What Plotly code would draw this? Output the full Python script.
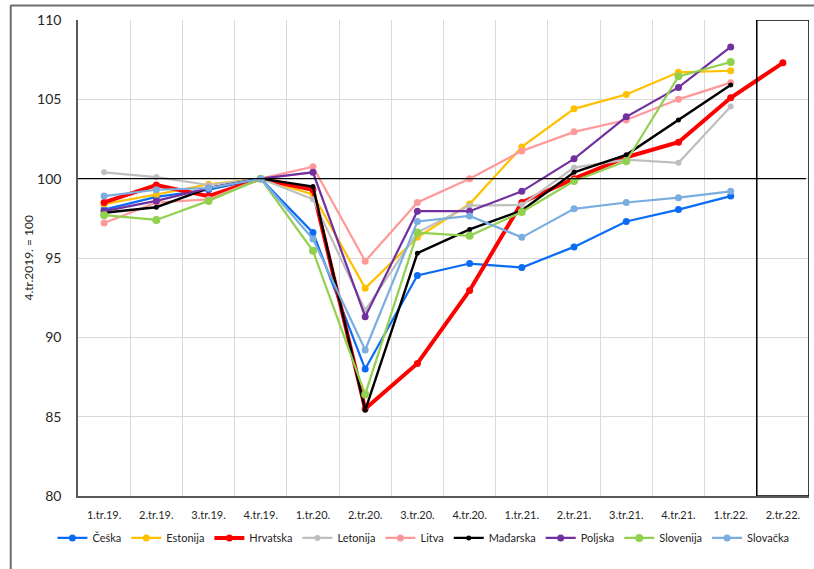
import plotly.graph_objects as go

quarters = ["1.tr.19.", "2.tr.19.", "3.tr.19.", "4.tr.19.", "1.tr.20.", "2.tr.20.", "3.tr.20.",
            "4.tr.20.", "1.tr.21.", "2.tr.21.", "3.tr.21.", "4.tr.21.", "1.tr.22.", "2.tr.22."]

ceska = [98.05, 98.85, 99.3, 100, 96.6, 88.0, 93.9, 94.65, 94.4, 95.7, 97.3, 98.05, 98.9, None]
estonija = [98.4, 99.0, 99.65, 100, 99.0, 93.1, 96.3, 98.4, 102.0, 104.4, 105.3, 106.7, 106.8, None]
hrvatska = [98.5, 99.6, 98.9, 100, 99.3, 85.5, 88.35, 92.95, 98.5, 100.0, 101.35, 102.3, 105.1, 107.3]
letonija = [100.4, 100.1, 99.6, 100, 98.7, 91.7, 96.6, 98.3, 98.35, 100.7, 101.2, 101.0, 104.55, None]
litva = [97.2, 98.5, 98.7, 100, 100.75, 94.8, 98.5, 100.0, 101.75, 102.95, 103.7, 105.0, 106.05, None]
madarska = [97.85, 98.2, 99.4, 100, 99.5, 85.4, 95.3, 96.8, 98.0, 100.4, 101.5, 103.7, 105.9, None]
poljska = [97.95, 98.6, 99.4, 100, 100.4, 91.3, 97.95, 97.95, 99.2, 101.25, 103.9, 105.75, 108.3, None]
slovenija = [97.7, 97.4, 98.6, 100, 95.45, 86.4, 96.6, 96.4, 97.9, 99.85, 101.1, 106.45, 107.35, None]
slovacka = [98.9, 99.3, 99.4, 100, 96.2, 89.2, 97.3, 97.65, 96.3, 98.1, 98.5, 98.8, 99.2, None]

series = [
    ("Češka", ceska, "#0a6cf5", 2.2, 7),
    ("Estonija", estonija, "#ffc000", 2.2, 7),
    ("Hrvatska", hrvatska, "#ff0000", 4, 7),
    ("Letonija", letonija, "#bfbfbf", 2.2, 6),
    ("Litva", litva, "#ff9999", 2.2, 7),
    ("Mađarska", madarska, "#000000", 2.4, 5),
    ("Poljska", poljska, "#7030a0", 2.2, 7),
    ("Slovenija", slovenija, "#92d050", 2.2, 8),
    ("Slovačka", slovacka, "#7aaee0", 2.2, 7),
]

fig = go.Figure()
for name, vals, color, lw, ms in series:
    fig.add_trace(go.Scatter(
        x=quarters, y=vals, name=name, mode="lines+markers",
        line=dict(color=color, width=lw),
        marker=dict(color=color, size=ms),
    ))

# reference line at 100 and box around the forecast quarter
fig.add_shape(type="line", xref="paper", yref="y", x0=0, x1=0.996, y0=100, y1=100,
              line=dict(color="black", width=1.3))
fig.add_shape(type="rect", xref="x", yref="y", x0=12.5, x1=13.5, y0=80, y1=110,
              line=dict(color="black", width=1.5))
# outer frame (cropped on the right and bottom in the original)
fig.add_shape(type="line", xref="paper", yref="paper", x0=-0.092, x1=-0.092, y0=-0.2, y1=1.031,
              line=dict(color="#6e6e6e", width=2))
# top edge of the frame as a thin filled annotation box
fig.add_annotation(text=" ", xref="paper", yref="paper", x=-0.093, y=1.031,
                   xanchor="left", yanchor="middle", showarrow=False,
                   width=810, height=1, borderpad=0, bgcolor="#6e6e6e",
                   font=dict(size=1))

fig.add_annotation(text="4.tr.2019. = 100", textangle=-90, xref="paper", yref="paper",
                   x=-0.082, y=0.5, showarrow=False, font=dict(size=12, color="#262626"))

fig.update_layout(
    width=814, height=569,
    margin=dict(l=78, r=5, t=20, b=73),
    paper_bgcolor="white", plot_bgcolor="white",
    font=dict(family="Lato, Open Sans, sans-serif", color="#262626"),
    showlegend=True,
    legend=dict(orientation="h", x=-0.035, xanchor="left", y=-0.088, yanchor="middle",
                font=dict(size=11), itemwidth=30, bgcolor="rgba(0,0,0,0)"),
    xaxis=dict(type="category", tickson="boundaries", ticklen=0, showgrid=True,
               gridcolor="#d9d9d9", gridwidth=1, showline=True, linecolor="#595959",
               linewidth=1.5, tickfont=dict(size=11), ticklabelstandoff=8,
               range=[-0.5, 13.5]),
    yaxis=dict(range=[80, 110], dtick=5, showgrid=True, gridcolor="#d9d9d9", gridwidth=1,
               showline=True, linecolor="#595959", linewidth=1.5, zeroline=False,
               tickfont=dict(size=14), ticklabelstandoff=12, ticks=""),
)

# drop the default 8px page margin so the figure sits at the window origin
fig.write_html("out.html", config={"displayModeBar": False},
               post_script="document.body.style.margin='0px';")
